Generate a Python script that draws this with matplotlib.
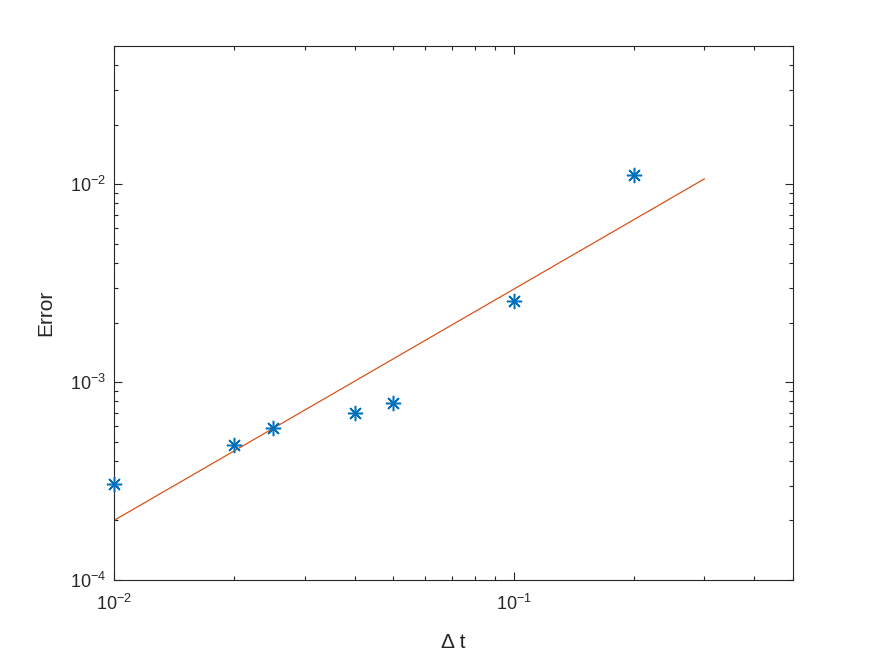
import matplotlib
matplotlib.use("Agg")
import matplotlib.pyplot as plt
from matplotlib.ticker import LogLocator, NullFormatter

plt.rcParams['font.family'] = ['Liberation Sans', 'DejaVu Sans']
plt.rcParams['mathtext.fontset'] = 'custom'
plt.rcParams['mathtext.rm'] = 'Liberation Sans'
plt.rcParams['mathtext.it'] = 'Liberation Sans:italic'

dt = [0.01, 0.02, 0.025, 0.04, 0.05, 0.1, 0.2]
err = [3.04e-4, 4.81e-4, 5.88e-4, 6.95e-4, 7.87e-4, 2.57e-3, 1.11e-2]
fit_x = [0.01, 0.3]
fit_y = [2.0e-4, 1.065e-2]

axc = '#262626'
fig = plt.figure(figsize=(8.75, 6.57), dpi=100)
ax = fig.add_axes([114/875, 77/657, 679/875, 534/657])
ax.plot(fit_x, fit_y, color='#D95319', linewidth=0.9)
ax.plot(dt, err, linestyle='none', marker=(8, 2, 0), color='#0072BD', markersize=11,
        markeredgewidth=1.1, clip_on=False, zorder=5)
ax.set_xscale('log')
ax.set_yscale('log')
ax.set_xlim(0.01, 0.5)
ax.set_ylim(1e-4, 0.05)
for s in ax.spines.values():
    s.set_color(axc)
    s.set_linewidth(0.8)
ax.tick_params(which='both', direction='in', top=True, right=True, colors=axc,
               labelsize=13, width=0.8)
ax.tick_params(which='major', length=6)
ax.tick_params(which='minor', length=3)
ax.tick_params(axis='x', which='both', pad=10)
ax.tick_params(axis='y', which='both', pad=6)
ax.xaxis.set_minor_locator(LogLocator(base=10, subs=range(2, 10)))
ax.yaxis.set_minor_locator(LogLocator(base=10, subs=range(2, 10)))
ax.xaxis.set_minor_formatter(NullFormatter())
ax.yaxis.set_minor_formatter(NullFormatter())
ax.set_xticks([0.01, 0.1])
ax.set_yticks([1e-4, 1e-3, 1e-2])
ax.set_xticklabels([r'$10^{-2}$', r'$10^{-1}$'])
ax.set_yticklabels([r'$10^{-4}$', r'$10^{-3}$', r'$10^{-2}$'])
ax.set_xlabel('Δ t', fontsize=15, color=axc, labelpad=14)
ax.set_ylabel('Error', fontsize=15, color=axc, labelpad=10)
fig.savefig('out.png', dpi=100, facecolor='white')
